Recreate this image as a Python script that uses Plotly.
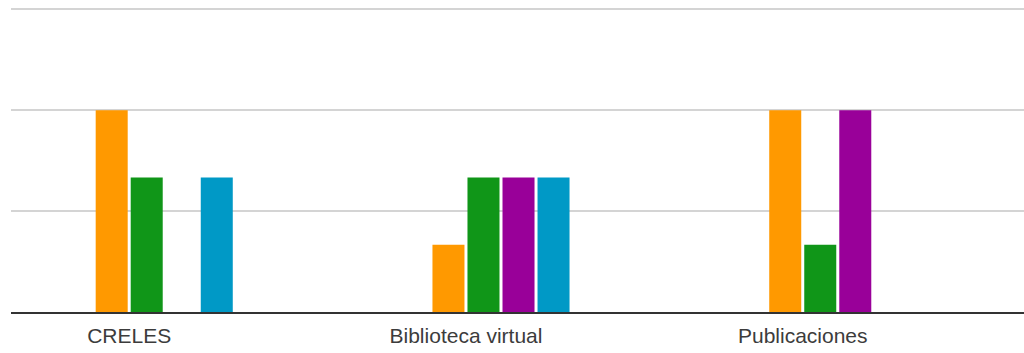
import plotly.graph_objects as go

categories = ["CRELES", "Biblioteca virtual", "Publicaciones"]
series_names = ["Serie 1", "Serie 2", "Serie 3", "Serie 4", "Serie 5", "Serie 6"]
serie1 = [0, 0, 0]
serie2 = [0, 0, 0]
serie3 = [3, 1, 3]
serie4 = [2, 2, 1]
serie5 = [0, 2, 3]
serie6 = [2, 2, 0]
colors = ["#3366cc", "#dc3912", "#ff9900", "#109618", "#990099", "#0099c6"]

fig = go.Figure()
for name, vals, col in zip(series_names, [serie1, serie2, serie3, serie4, serie5, serie6], colors):
    fig.add_trace(go.Bar(x=categories, y=vals, name=name,
                         marker=dict(color=col, line=dict(width=0))))

fig.update_layout(
    autosize=False,
    width=1024, height=353,
    margin=dict(l=11, r=0, t=8, b=41),
    barmode="group", bargap=0.376, bargroupgap=0.086,
    showlegend=False,
    plot_bgcolor="white", paper_bgcolor="white",
    font=dict(family="Liberation Sans, Arial, sans-serif", size=21, color="#3c3c3c"),
)
fig.update_xaxes(range=[-0.351, 2.657], showline=True, linecolor="#333333", linewidth=2,
                 ticks="", showgrid=False, ticklabelstandoff=4)
fig.update_yaxes(range=[0, 4.52], tickvals=[1.5, 3, 4.5], showticklabels=False,
                 gridcolor="#d4d4d4", gridwidth=1.5, zeroline=False)

fig.write_html("out.html",
               config={"displayModeBar": False},
               post_script="document.body.style.margin='0';document.body.style.overflow='hidden';")
